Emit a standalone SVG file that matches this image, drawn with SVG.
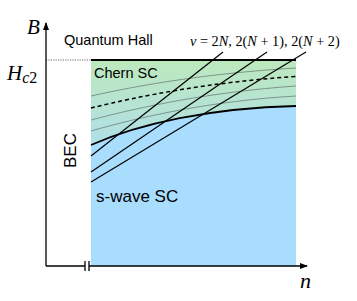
<svg xmlns="http://www.w3.org/2000/svg" width="357" height="301" viewBox="0 0 357 301">
<defs>
<linearGradient id="chern" x1="0" y1="60" x2="0" y2="145" gradientUnits="userSpaceOnUse">
<stop offset="0" stop-color="#bde9bc"/>
<stop offset="1" stop-color="#b0dfe8"/>
</linearGradient>
<marker id="arr" markerWidth="8" markerHeight="6" refX="7" refY="3" orient="auto" markerUnits="userSpaceOnUse">
<path d="M0,0 L8,3 L0,6 z" fill="#000"/>
</marker>
</defs>
<style>
.sans{font-family:"Liberation Sans",Arial,sans-serif;fill:#000}
.math{font-family:"Liberation Serif","Times New Roman",serif;font-style:italic;fill:#000}
.rm{font-style:normal}
.gray{fill:none;stroke:#6f7f7a;stroke-width:0.8}
.diag{fill:none;stroke:#000;stroke-width:1.2}
.axis{fill:none;stroke:#000;stroke-width:1.3}
</style>
<g id="regions">
<rect x="91" y="60" width="205" height="206" fill="#a9ddfe"/>
<path d="M91,60 L296,60 L296,106 C210,108 140,123.5 91,145 Z" fill="url(#chern)"/>
</g>
<g id="contours">
<path class="gray" d="M91,96 C140,85 210,73 296,68"/>
<path d="M91,108 C140,96 210,82 296,76.5" fill="none" stroke="#000" stroke-width="1.5" stroke-dasharray="4,3"/>
<path class="gray" d="M91,120 C140,107 210,92 296,86"/>
<path class="gray" d="M91,131 C140,117 210,101 296,96"/>
<path d="M91,145 C140,123.5 210,108 296,106" fill="none" stroke="#000" stroke-width="1.8"/>
<line x1="91" y1="60" x2="296" y2="60" stroke="#000" stroke-width="1.8"/>
<line x1="46" y1="60" x2="91" y2="60" stroke="#555" stroke-width="0.9" stroke-dasharray="1.2,1.2"/>
</g>
<g id="landau">
<line class="diag" x1="91" y1="156" x2="223" y2="52"/>
<line class="diag" x1="91" y1="172" x2="267" y2="52"/>
<line class="diag" x1="91" y1="182" x2="306" y2="52"/>
</g>
<g id="axes">
<line class="axis" x1="46" y1="266" x2="46" y2="23" marker-end="url(#arr)"/>
<line class="axis" x1="46" y1="266" x2="85" y2="266"/>
<line class="axis" x1="89" y1="266" x2="307" y2="266" marker-end="url(#arr)"/>
<line class="axis" x1="85" y1="261" x2="85" y2="271"/>
<line class="axis" x1="89" y1="261" x2="89" y2="271"/>
</g>
<g id="labels">
<text class="math" x="27" y="34" font-size="21">B</text>
<text class="math" x="7" y="80" font-size="21">H<tspan font-size="16" dy="3">c</tspan><tspan class="rm" font-size="16">2</tspan></text>
<text class="math" x="300" y="288" font-size="22">n</text>
<text class="sans" x="64" y="45" font-size="14.5">Quantum Hall</text>
<text class="sans" x="94" y="78" font-size="14.5">Chern SC</text>
<text class="sans" x="96" y="202" font-size="17">s-wave SC</text>
<text class="sans" x="0" y="0" font-size="17" text-anchor="middle" transform="translate(76,150.5) rotate(-90)">BEC</text>
<text class="math" x="190" y="46" font-size="14.3">ν<tspan class="rm"> = 2</tspan>N<tspan class="rm">, 2(</tspan>N<tspan class="rm"> + 1), 2(</tspan>N<tspan class="rm"> + 2)</tspan></text>
</g>
</svg>
